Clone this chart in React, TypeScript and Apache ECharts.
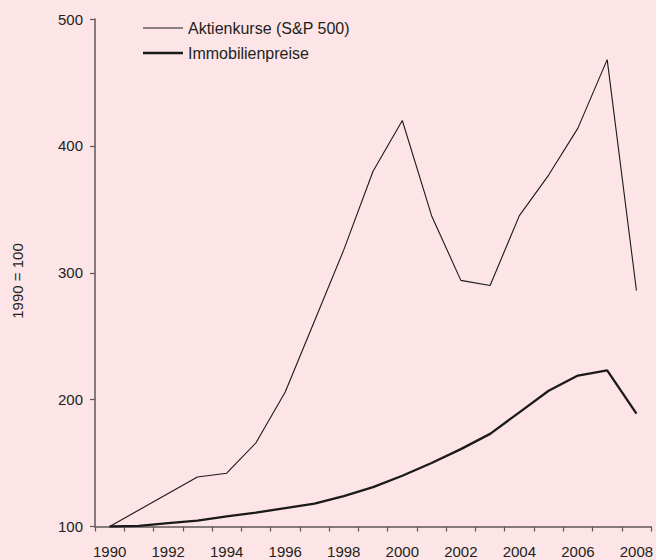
import React, { useEffect, useRef } from "react";
import * as echarts from "echarts";

const years = [
  "1990", "1991", "1992", "1993", "1994", "1995", "1996", "1997", "1998", "1999",
  "2000", "2001", "2002", "2003", "2004", "2005", "2006", "2007", "2008",
];
const stockPrices = [
  100, 113, 126, 139, 142, 166, 206, 262, 318, 380,
  420, 345, 294, 290, 345, 377, 414, 468, 286,
];
const housePrices = [
  100, 100.5, 102.6, 104.7, 108, 111, 114.5, 118, 124, 131,
  140, 150, 161, 173, 190, 207, 219, 223, 189,
];
const seriesNames = ["Aktienkurse (S&P 500)", "Immobilienpreise"];
const yTitle = "1990 = 100";

const FONT = "'Liberation Sans', Arial, sans-serif";
const TEXT = "#231f20";
const AXIS = "#5f5759";
const LINE = "#1a1a1a";

export default function App() {
  const ref = useRef<HTMLDivElement>(null);
  useEffect(() => {
    if (!ref.current) return;
    const chart = echarts.init(ref.current, undefined, { renderer: "svg" });
    chart.setOption({
      animation: false,
      backgroundColor: "#fde4e6",
      textStyle: { fontFamily: FONT },
      grid: { left: 95, right: 0, top: 19, bottom: 33.5 },
      legend: {
        orient: "vertical",
        left: 143,
        top: 20,
        padding: 0,
        itemWidth: 40,
        itemHeight: 14,
        itemGap: 9,
        symbolKeepAspect: true,
        textStyle: { fontSize: 16, color: TEXT, fontFamily: FONT, lineHeight: 16 },
        data: [
          { name: seriesNames[0], icon: "path://M0,0L40,0L40,1.1L0,1.1Z" },
          { name: seriesNames[1], icon: "path://M0,0L40,0L40,2.4L0,2.4Z" },
        ],
      },
      xAxis: {
        type: "category",
        data: years,
        boundaryGap: true,
        axisLine: { lineStyle: { color: AXIS, width: 1.5 } },
        axisTick: { show: true, interval: 0, length: 5, lineStyle: { color: AXIS, width: 1.2 } },
        axisLabel: { interval: 1, fontSize: 15, color: TEXT, margin: 17, fontFamily: FONT },
        splitLine: { show: false },
      },
      yAxis: {
        type: "value",
        min: 100,
        max: 500,
        interval: 100,
        axisLine: { show: true, lineStyle: { color: AXIS, width: 1.5 } },
        axisTick: { show: true, length: 5, lineStyle: { color: AXIS, width: 1.2 } },
        axisLabel: { fontSize: 15, color: TEXT, margin: 12, fontFamily: FONT },
        splitLine: { show: false },
      },
      graphic: [
        {
          type: "text",
          x: 17,
          y: 281,
          rotation: Math.PI / 2,
          style: {
            text: yTitle,
            fontSize: 15,
            fontFamily: FONT,
            fill: TEXT,
            align: "center",
            verticalAlign: "middle",
          },
        },
      ],
      series: [
        {
          name: seriesNames[0],
          type: "line",
          data: stockPrices,
          symbol: "none",
          lineStyle: { color: LINE, width: 1.1 },
          itemStyle: { color: LINE },
        },
        {
          name: seriesNames[1],
          type: "line",
          data: housePrices,
          symbol: "none",
          lineStyle: { color: LINE, width: 2.3 },
          itemStyle: { color: LINE },
        },
      ],
    });
    return () => chart.dispose();
  }, []);
  return (
    <div
      ref={ref}
      style={{ position: "fixed", left: 0, top: 0, width: 656, height: 560 }}
    />
  );
}
